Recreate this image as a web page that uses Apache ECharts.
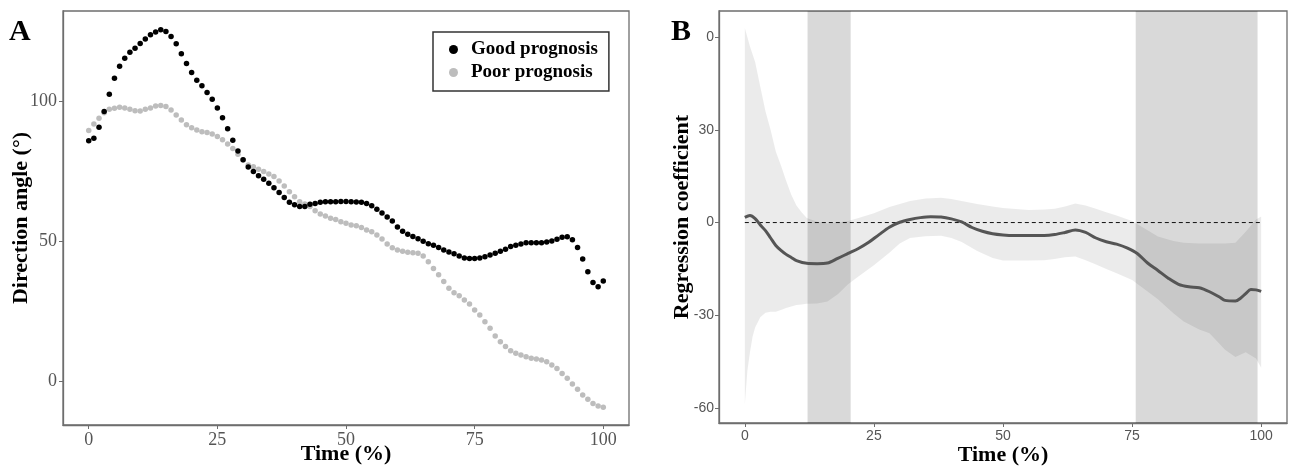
<!DOCTYPE html>
<html>
<head>
<meta charset="utf-8">
<script src="https://cdn.jsdelivr.net/npm/echarts@6/dist/echarts.min.js"></script>
<style>
html,body{margin:0;padding:0;background:#fff;}
#c{width:1295px;height:469px;}
</style>
</head>
<body>
<div id="c"></div>
<script>
// ---------- Panel A data ----------
const timeA = Array.from({length: 101}, (_, i) => i);
const goodPrognosis = [
  85.8, 86.7, 90.6, 96.2, 102.4, 108.1, 112.4, 115.2, 117.4, 118.8,
  120.5, 122.1, 123.6, 124.6, 125.4, 124.8, 123.0, 120.4, 116.8, 113.4,
  110.1, 107.4, 105.4, 103.0, 100.6, 97.5, 94.0, 90.1, 86.0, 82.1,
  79.0, 76.4, 74.8, 73.3, 72.0, 70.6, 69.0, 67.3, 65.5, 63.8,
  62.9, 62.3, 62.3, 63.1, 63.4, 63.8, 64.0, 64.0, 64.0, 64.1,
  64.1, 64.0, 63.9, 63.8, 63.4, 62.6, 61.3, 60.0, 58.6, 57.1,
  55.0, 53.5, 52.4, 51.6, 50.8, 49.9, 49.0, 48.5, 47.7, 46.8,
  46.1, 45.4, 44.6, 43.9, 43.7, 43.7, 43.9, 44.4, 45.0, 45.6,
  46.3, 47.0, 48.0, 48.5, 48.9, 49.4, 49.4, 49.4, 49.4, 49.6,
  50.0, 50.6, 51.3, 51.5, 50.4, 47.7, 43.6, 39.0, 35.2, 33.7,
  35.7
];
const poorPrognosis = [
  89.4, 91.8, 93.8, 95.8, 97.0, 97.4, 97.7, 97.5, 97.0, 96.5,
  96.4, 97.0, 97.5, 98.2, 98.4, 98.0, 96.8, 95.0, 93.2, 91.5,
  90.4, 89.6, 89.0, 88.7, 88.2, 87.3, 86.1, 84.6, 83.0, 81.0,
  78.9, 77.1, 76.5, 75.6, 74.8, 73.9, 73.0, 71.4, 69.6, 67.6,
  65.8, 64.0, 63.2, 62.3, 60.8, 59.6, 58.9, 58.1, 57.7, 56.9,
  56.3, 55.7, 55.4, 54.8, 53.9, 53.3, 52.1, 50.7, 48.9, 47.6,
  46.8, 46.3, 46.0, 45.8, 45.6, 44.6, 42.6, 40.2, 37.9, 35.5,
  33.1, 31.5, 30.4, 28.9, 27.5, 25.4, 23.6, 21.2, 18.8, 16.1,
  14.0, 12.3, 10.8, 9.9, 9.3, 8.7, 8.1, 7.9, 7.5, 6.9,
  5.7, 4.5, 2.7, 1.0, -1.1, -2.9, -5.0, -6.5, -8.0, -8.9,
  -9.4
];
const xTicksA = [0, 25, 50, 75, 100];
const yTicksA = [0, 50, 100];

// ---------- Panel B data ----------
const ciTime  = [0, 0.5, 1, 1.5, 2, 3, 4, 5, 6, 7, 8, 9, 10, 11, 12, 14, 16, 18, 20, 22, 25, 28, 30, 32, 35, 38, 40, 42, 45, 48, 50, 55, 58, 60, 62, 64, 66, 68, 70, 72, 75, 78, 80, 83, 85, 88, 90, 93, 95, 97, 99, 100];
const ciUpper = [63, 60, 57, 54.5, 52, 44, 36, 30, 23, 18.5, 13.5, 9, 5.5, 3.3, 1.5, 0.3, -0.3, 0, 0.5, 1.5, 3, 5, 6, 7, 7.8, 8, 7.6, 7, 6, 5.2, 4.7, 4.1, 4.2, 4.5, 5.2, 6.2, 5.5, 4.5, 3.3, 2.3, 0.5, -2.5, -4.5, -6, -6.5, -6.8, -6.8, -6.8, -6.5, -3, 1, 2];
const ciLower = [-59, -48, -42, -37, -34, -30.7, -29.2, -28.9, -28.9, -28.3, -27.7, -27.2, -26.7, -26.5, -26.3, -26.2, -25.6, -23.2, -20, -17.5, -13.8, -9.8, -6.8, -5, -4.4, -4.3, -5, -6.3, -9.2, -11.5, -12.3, -12.3, -12.2, -11.8, -11.2, -11, -12.2, -13.6, -15, -16.4, -18.6, -22.3, -24.8, -29.4, -32, -34.6, -35.8, -41.2, -43.5, -42, -44, -47];
const coefTime  = [0, 1, 2, 3, 4, 5, 6, 7, 8, 9, 10, 12, 14, 16, 18, 20, 22, 24, 26, 28, 30, 32, 34, 36, 38, 40, 42, 44, 46, 48, 50, 52, 55, 58, 60, 62, 64, 66, 68, 70, 72, 74, 76, 78, 80, 82, 84, 86, 88, 90, 92, 93, 95, 96, 97, 98, 99, 100];
const coefValue = [1.7, 2.3, 1.3, -0.8, -2.6, -5, -7.4, -9, -10.3, -11.3, -12.3, -13.2, -13.3, -13.1, -11.6, -10, -8.4, -6.4, -3.9, -1.5, 0.1, 1, 1.6, 1.9, 1.8, 1.2, 0.2, -1.6, -2.8, -3.6, -4, -4.2, -4.2, -4.2, -3.9, -3.2, -2.4, -3.2, -5, -6.2, -7, -8.2, -10, -13.1, -15.5, -18, -20, -20.8, -21.1, -22.4, -24.2, -25.2, -25.4, -24.5, -23, -21.7, -21.8, -22.3];
const sigBands = [[12.15, 20.5], [75.7, 99.3]];
const refLineX = [0, 100];
const refLineY = 0;
const xTicksB = [0, 25, 50, 75, 100];
const yTicksB = [-60, -30, 0, 30, 60];
const yTickLabelsB = ['-60', '-30', '0', '30', '0'];

// ---------- build ----------
const serif = '"Liberation Serif", "Times New Roman", serif';
const sans = '"Liberation Sans", Arial, sans-serif';
const frame = '#6e6e6e';

function axisCommon(ticks, fontFamily, fontSize, margin, formatter) {
  return {
    nameMoveOverlap: false,
    axisLine: {show: true, onZero: false, lineStyle: {color: frame, width: 1.3}},
    axisTick: {show: true, length: 4, customValues: ticks, lineStyle: {color: frame, width: 1}},
    axisLabel: {show: true, customValues: ticks, color: '#555', fontFamily: fontFamily, fontSize: fontSize, margin: margin, formatter: formatter},
    splitLine: {show: false}
  };
}

const option = {
  animation: false,
  backgroundColor: '#fff',
  title: [
    {text: 'A', left: 9, top: 17, padding: 0, textStyle: {fontFamily: serif, fontWeight: 'bold', fontSize: 30, color: '#000'}},
    {text: 'B', left: 671, top: 17, padding: 0, textStyle: {fontFamily: serif, fontWeight: 'bold', fontSize: 30, color: '#000'}}
  ],
  grid: [
    {left: 63, top: 11, width: 566, height: 414, show: true, borderColor: frame, borderWidth: 1.3, backgroundColor: 'transparent', outerBoundsMode: 'none', containLabel: false},
    {left: 719, top: 11, width: 568, height: 412, show: true, borderColor: frame, borderWidth: 1.3, backgroundColor: 'transparent', outerBoundsMode: 'none', containLabel: false}
  ],
  legend: {
    data: ['Good prognosis', 'Poor prognosis'],
    orient: 'vertical',
    left: 433, top: 32,
    padding: [8, 11, 9, 16],
    itemGap: 4,
    itemWidth: 9, itemHeight: 9,
    icon: 'circle',
    borderColor: '#333', borderWidth: 1.5, backgroundColor: '#fff',
    textStyle: {fontFamily: serif, fontWeight: 'bold', fontSize: 19, color: '#000', padding: [0, 0, 0, 8]}
  },
  xAxis: [
    Object.assign({type: 'value', gridIndex: 0, min: -5, max: 105,
      name: 'Time (%)', nameLocation: 'middle', nameGap: 18,
      nameTextStyle: {fontFamily: serif, fontWeight: 'bold', fontSize: 22, color: '#000'}},
      axisCommon(xTicksA, serif, 18, 6)),
    Object.assign({type: 'value', gridIndex: 1, min: -5, max: 105,
      name: 'Time (%)', nameLocation: 'middle', nameGap: 21,
      nameTextStyle: {fontFamily: serif, fontWeight: 'bold', fontSize: 22, color: '#000'}},
      axisCommon(xTicksB, sans, 14, 6))
  ],
  yAxis: [
    Object.assign({type: 'value', gridIndex: 0, min: -15.7, max: 132.1,
      name: 'Direction angle (°)', nameLocation: 'middle', nameGap: 31,
      nameTextStyle: {fontFamily: serif, fontWeight: 'bold', fontSize: 22, color: '#000'}},
      axisCommon(yTicksA, serif, 18, 6)),
    Object.assign({type: 'value', gridIndex: 1, min: -64.9, max: 68.5,
      name: 'Regression coefficient', nameLocation: 'middle', nameGap: 26,
      nameTextStyle: {fontFamily: serif, fontWeight: 'bold', fontSize: 22, color: '#000'}},
      axisCommon(yTicksB, sans, 14, 5, function (v) {
        const i = yTicksB.indexOf(v);
        return i >= 0 ? yTickLabelsB[i] : '';
      }))
  ],
  series: [
    {
      name: 'Poor prognosis', type: 'scatter', xAxisIndex: 0, yAxisIndex: 0,
      data: timeA.map((t, i) => [t, poorPrognosis[i]]),
      symbol: 'circle', symbolSize: 5.5, itemStyle: {color: '#bdbdbd', opacity: 1}, z: 2
    },
    {
      name: 'Good prognosis', type: 'scatter', xAxisIndex: 0, yAxisIndex: 0,
      data: timeA.map((t, i) => [t, goodPrognosis[i]]),
      symbol: 'circle', symbolSize: 5.5, itemStyle: {color: '#000', opacity: 1}, z: 3
    },
    {
      name: 'ci', type: 'custom', xAxisIndex: 1, yAxisIndex: 1,
      data: ciTime.map((t, i) => [t, ciLower[i], ciUpper[i]]),
      encode: {x: 0, y: [1, 2]},
      silent: true, z: 1,
      renderItem: function (params, api) {
        if (params.dataIndex !== 0) return null;
        const pts = [];
        for (let i = 0; i < ciTime.length; i++) pts.push(api.coord([ciTime[i], ciUpper[i]]));
        for (let i = ciTime.length - 1; i >= 0; i--) pts.push(api.coord([ciTime[i], ciLower[i]]));
        return {type: 'polygon', shape: {points: pts, smooth: 0}, style: {fill: 'rgba(0,0,0,0.08)'}};
      }
    },
    {
      name: 'ref', type: 'line', xAxisIndex: 1, yAxisIndex: 1,
      data: refLineX.map(x => [x, refLineY]),
      showSymbol: false, symbol: 'none', silent: true,
      lineStyle: {color: '#111', width: 1, type: [4, 3]}, z: 3,
      markArea: {
        silent: true,
        itemStyle: {color: 'rgba(0,0,0,0.15)'},
        data: sigBands.map(b => [{xAxis: b[0]}, {xAxis: b[1]}])
      }
    },
    {
      name: 'coef', type: 'line', xAxisIndex: 1, yAxisIndex: 1,
      data: coefTime.map((t, i) => [t, coefValue[i]]),
      showSymbol: false, symbol: 'none', smooth: 0.3, silent: true,
      lineStyle: {color: '#555', width: 3}, z: 4
    }
  ]
};

const chart = echarts.init(document.getElementById('c'), null, {renderer: 'canvas'});
chart.setOption(option);
</script>
</body>
</html>
